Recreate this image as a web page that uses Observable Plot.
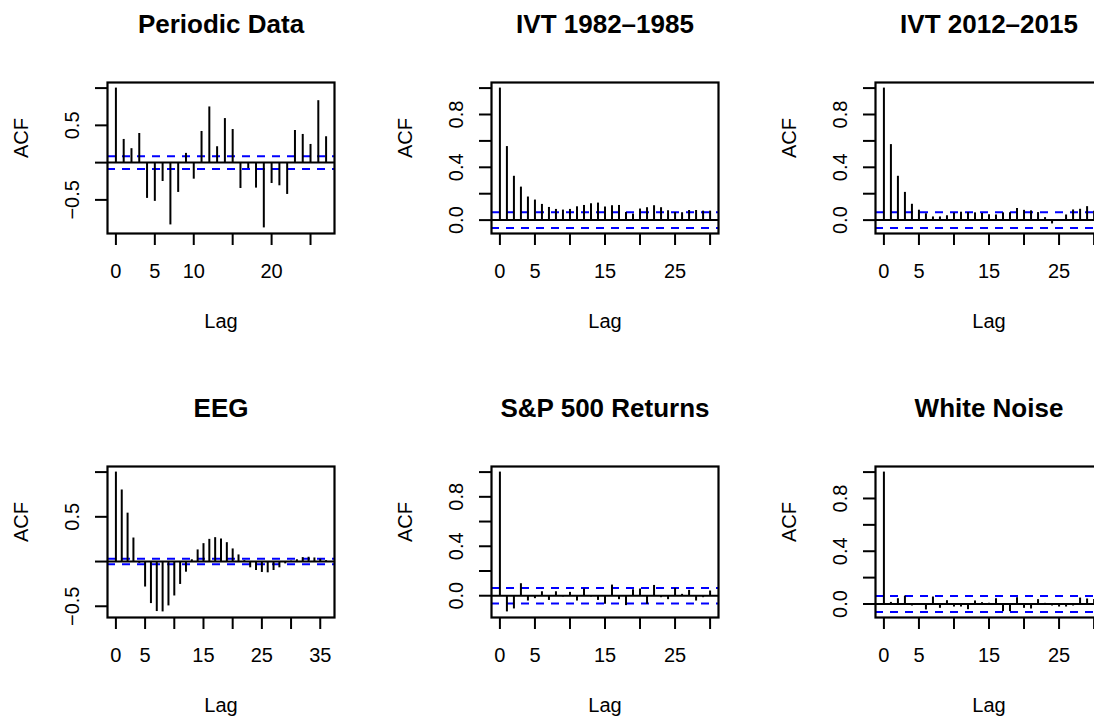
<!DOCTYPE html>
<html><head><meta charset="utf-8">
<script src="https://cdn.jsdelivr.net/npm/d3@7"></script>
<script src="https://cdn.jsdelivr.net/npm/@observablehq/plot@0.6"></script>
<style>
body{margin:0;background:#fff;}
#fig{position:relative;width:1094px;height:719px;overflow:hidden;background:#fff;}
#fig svg{position:absolute;}
</style></head><body><div id="fig"></div>
<script>
// ---- data (ACF values indexed by lag 0..n) ----
const titles = ["Periodic Data", "IVT 1982\u20131985", "IVT 2012\u20132015", "EEG", "S&P 500 Returns", "White Noise"];

const periodicAcf = [1.0, 0.311, 0.187, 0.391, -0.48, -0.52, -0.253, -0.836, -0.4, 0.124, -0.222, 0.418, 0.747, 0.213, 0.591, 0.444, -0.347, -0.08, -0.342, -0.876, -0.28, -0.311, -0.427, 0.431, 0.378, 0.244, 0.831, 0.347];
const ivt1982Acf = [1.0, 0.557, 0.332, 0.25, 0.175, 0.152, 0.119, 0.096, 0.081, 0.076, 0.081, 0.101, 0.111, 0.124, 0.129, 0.099, 0.109, 0.111, 0.058, 0.046, 0.084, 0.094, 0.109, 0.094, 0.071, 0.058, 0.056, 0.073, 0.073, 0.068, 0.068];
const ivt2012Acf = [1.0, 0.572, 0.332, 0.21, 0.12, 0.075, 0.048, 0.024, 0.024, 0.033, 0.053, 0.06, 0.058, 0.055, 0.05, 0.04, 0.039, 0.055, 0.056, 0.088, 0.074, 0.07, 0.057, 0.019, -0.029, -0.006, 0.039, 0.077, 0.082, 0.102, 0.067];
const eegAcf = [1.0, 0.8, 0.541, 0.263, -0.02, -0.285, -0.47, -0.559, -0.563, -0.496, -0.385, -0.256, -0.119, 0.02, 0.13, 0.2, 0.248, 0.267, 0.252, 0.211, 0.141, 0.074, 0.01, -0.07, -0.1, -0.122, -0.126, -0.1, -0.07, -0.026, 0.005, 0.02, 0.044, 0.048, 0.04, 0.026, 0.01];
const sp500Acf = [1.0, -0.131, -0.107, 0.097, -0.043, -0.024, 0.032, -0.038, 0.032, -0.01, 0.027, -0.043, 0.054, -0.01, -0.038, -0.07, 0.086, -0.032, -0.08, 0.048, 0.054, -0.07, 0.083, -0.016, -0.032, 0.059, 0.011, 0.043, -0.043, -0.016, 0.038];
const whiteNoiseAcf = [1.0, 0.012, 0.04, 0.06, -0.015, -0.01, -0.045, 0.053, -0.033, 0.025, -0.023, -0.023, -0.043, 0.023, 0.01, 0.005, 0.04, -0.058, -0.058, 0.048, -0.033, -0.038, 0.033, 0.005, -0.015, -0.023, -0.023, -0.015, 0.045, 0.038, 0.035];

const confLimits = [0.085, 0.059, 0.059, 0.03, 0.062, 0.06];

// tick values and the labels R actually printed (others hidden by overlap)
const xTicks27 = [0, 5, 10, 15, 20, 25];
const xLabels27 = ["0", "5", "10", "", "20", ""];
const xTicks30 = [0, 5, 10, 15, 20, 25, 30];
const xLabels30 = ["0", "5", "", "15", "", "25", ""];
const xTicks36 = [0, 5, 10, 15, 20, 25, 30, 35];
const xLabels36 = ["0", "5", "", "15", "", "25", "", "35"];
const yTicksWide = [-0.5, 0, 0.5, 1];
const yLabelsWide = ["\u22120.5", "", "0.5", ""];
const yTicksPos = [0, 0.2, 0.4, 0.6, 0.8, 1];
const yLabelsPos = ["0.0", "", "0.4", "", "0.8", ""];

const series = [periodicAcf, ivt1982Acf, ivt2012Acf, eegAcf, sp500Acf, whiteNoiseAcf];
const xTickSets = [[xTicks27, xLabels27], [xTicks30, xLabels30], [xTicks30, xLabels30], [xTicks36, xLabels36], [xTicks30, xLabels30], [xTicks30, xLabels30]];
const yTickSets = [[yTicksWide, yLabelsWide], [yTicksPos, yLabelsPos], [yTicksPos, yLabelsPos], [yTicksWide, yLabelsWide], [yTicksPos, yLabelsPos], [yTicksPos, yLabelsPos]];

// ---- drawing ----
const fig = document.getElementById("fig");
const PW = 384, PH = 384;
const FONT = "'Liberation Sans', Arial, Helvetica, sans-serif";

series.forEach((acf, i) => {
  const col = i % 3, row = Math.floor(i / 3);
  const clim = confLimits[i];
  const rows = acf.map((v, k) => ({lag: k, acf: v}));
  const maxLag = acf.length - 1;
  const xPad = 0.04 * maxLag;
  const lo = Math.min(d3.min(acf), -clim), hi = Math.max(d3.max(acf), clim);
  const yPad = 0.04 * (hi - lo);
  const [xt, xl] = xTickSets[i];
  const [yt, yl] = yTickSets[i];
  const chart = Plot.plot({
    width: PW, height: PH,
    marginLeft: 107, marginRight: 50, marginTop: 82, marginBottom: 151,
    style: {fontFamily: FONT, fontSize: "20px", color: "black", background: "white"},
    x: {domain: [-xPad, maxLag + xPad]},
    y: {domain: [lo - yPad, hi + yPad]},
    marks: [
      Plot.ruleY([clim, -clim], {stroke: "#0000ff", strokeWidth: 2, strokeDasharray: "8,7"}),
      Plot.ruleY([0], {stroke: "black", strokeWidth: 2}),
      Plot.ruleX(rows, {x: "lag", y1: 0, y2: "acf", stroke: "black", strokeWidth: 2}),
      Plot.frame({stroke: "black", strokeWidth: 2.2}),
      Plot.axisX({ticks: xt, tickFormat: d => xl[xt.indexOf(d)], tickSize: 12, tickPadding: 18, fontSize: 20, strokeWidth: 2, label: null}),
      Plot.axisY({ticks: yt, tickFormat: d => yl[yt.indexOf(d)], tickSize: 12, tickPadding: 17, tickRotate: -90, fontSize: 20, strokeWidth: 2, label: null}),
      Plot.text([titles[i]], {text: d => d, frameAnchor: "top", dy: -50, lineAnchor: "bottom", fontSize: 26, fontWeight: "bold"}),
      Plot.text(["Lag"], {text: d => d, frameAnchor: "bottom", dy: 94, lineAnchor: "bottom", fontSize: 20}),
      Plot.text(["ACF"], {text: d => d, frameAnchor: "left", dx: -80, rotate: -90, lineAnchor: "bottom", fontSize: 20})
    ]
  });
  chart.style.left = (col * PW) + "px";
  chart.style.top = (row * PH) + "px";
  fig.appendChild(chart);
});
</script>
</body></html>
